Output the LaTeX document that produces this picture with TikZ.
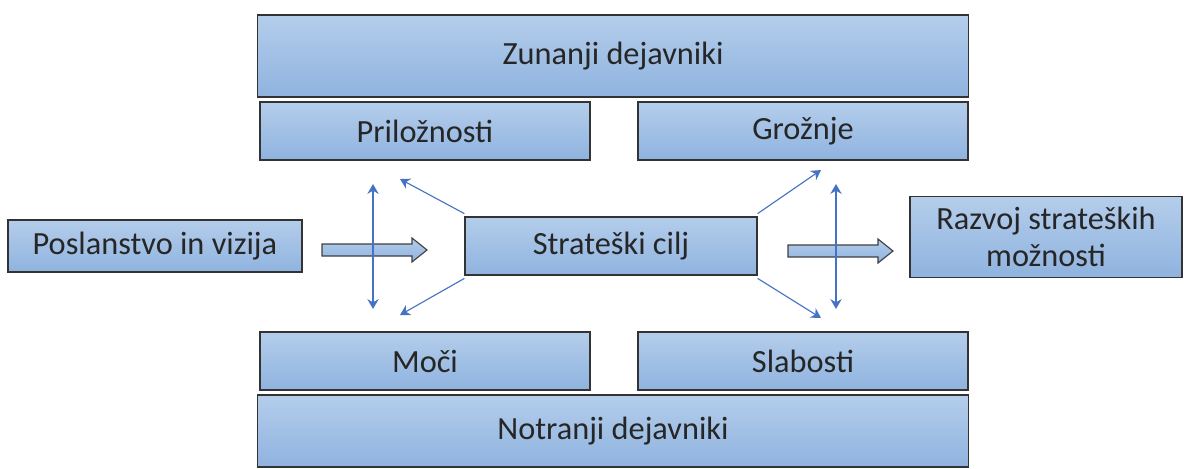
\documentclass[tikz,border=0pt]{standalone}
\usepackage{fontspec}
\setmainfont{Carlito}
\usetikzlibrary{arrows.meta}

\definecolor{boxtop}{HTML}{B4CDEB}
\definecolor{boxbot}{HTML}{8FB3DF}
\definecolor{linkblue}{HTML}{4472C4}

\tikzset{
  box/.style={draw=black!80, line width=0.8pt, top color=boxtop, bottom color=boxbot,
    text=black!85, font=\fontsize{23}{26}\selectfont, align=center, inner sep=0pt},
  hollowarrow/.style={draw=black!75, line width=0.8pt, top color=boxtop, bottom color=boxbot},
  swot/.style={linkblue, line width=2pt, {Stealth[length=7pt,width=8pt]}-{Stealth[length=7pt,width=8pt]}},
  spread/.style={linkblue, line width=0.8pt, -{Stealth[length=7pt,width=8pt]}},
}

\begin{document}
\begin{tikzpicture}[x=0.025cm, y=-0.025cm]
    \useasboundingbox (0,0) rectangle (1190,468);

    % zunanji / notranji
    \node[box, minimum width=17.75cm, minimum height=2.05cm] (zunanji) at (613,56) {Zunanji dejavniki};
    \node[box, minimum width=8.25cm, minimum height=1.45cm] (priloznosti) at (425,131) {Priložnosti};
    \node[box, minimum width=8.25cm, minimum height=1.45cm] (groznje) at (803,131) {Grožnje};
    \node[box, minimum width=8.25cm, minimum height=1.45cm] (moci) at (425,361) {Moči};
    \node[box, minimum width=8.25cm, minimum height=1.45cm] (slabosti) at (803,361) {Slabosti};
    \node[box, minimum width=17.75cm, minimum height=1.8cm] (notranji) at (613,431) {Notranji dejavniki};

    % srednja vrsta
    \node[box, minimum width=7.35cm, minimum height=1.3cm] (poslanstvo) at (155,246) {Poslanstvo in vizija};
    \node[box, minimum width=7.3cm, minimum height=1.45cm] (cilj) at (611,246) {Strateški cilj};
    \node[box, minimum width=6.8cm, minimum height=2.025cm] (razvoj) at (1046,237) {Razvoj strateških\\možnosti};

    % votle puscice
    \foreach \xa/\ya in {322/250, 788/251} {
      \draw[hollowarrow] (\xa,\ya-6) -- (\xa+90,\ya-6) -- (\xa+90,\ya-12) -- (\xa+105,\ya)
        -- (\xa+90,\ya+12) -- (\xa+90,\ya+6) -- (\xa,\ya+6) -- cycle;
    }

    % navpicne puscice
    \coordinate (lgor) at (373,184);
    \coordinate (ldol) at (373,309);
    \coordinate (dgor) at (836,184);
    \coordinate (ddol) at (836,309);
    \draw[swot] (lgor) -- (ldol);
    \draw[swot] (dgor) -- (ddol);

    % posevne puscice
    \coordinate (lz) at (400,179);
    \coordinate (ls) at (400,315);
    \coordinate (dz) at (821,170);
    \coordinate (ds) at (821,318);
    \draw[spread] ([yshift=2pt]cilj.north west) -- (lz);
    \draw[spread] ([yshift=-2pt]cilj.south west) -- (ls);
    \draw[spread] ([yshift=2pt]cilj.north east) -- (dz);
    \draw[spread] ([yshift=-2pt]cilj.south east) -- (ds);
\end{tikzpicture}
\end{document}
